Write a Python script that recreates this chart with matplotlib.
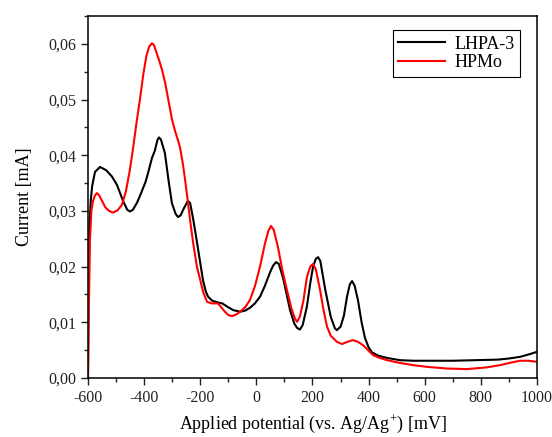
import matplotlib.pyplot as plt
from matplotlib.ticker import MultipleLocator, FuncFormatter

plt.rcParams['font.family'] = ['Liberation Serif', 'DejaVu Serif']
plt.rcParams['axes.unicode_minus'] = False
plt.rcParams['mathtext.fontset'] = 'custom'
plt.rcParams['mathtext.rm'] = 'Liberation Serif'

# LHPA-3 (black) - potential [mV], current [mA]
lhpa_x = [-600, -598, -595, -590, -585, -575, -557, -535, -515, -497, -475, -460, -450, -440,
          -425, -410, -395, -386, -372, -362, -352, -347, -340, -326, -313, -301, -288, -279,
          -270, -258, -244, -236, -225, -212, -201, -190, -180, -172, -158, -140, -122, -100,
          -83, -58, -40, -23, -5, 13, 30, 49, 60, 70, 80, 95, 108, 120, 135, 145, 155, 165,
          180, 192, 202, 212, 220, 228, 245, 265, 280, 287, 300, 312, 323, 333, 341, 350, 362,
          375, 387, 400, 412, 435, 466, 512, 560, 620, 700, 780, 860, 900, 940, 975, 1000]
lhpa_y = [0.0, 0.018, 0.027, 0.032, 0.0345, 0.0370, 0.0379, 0.0373, 0.0362, 0.0347, 0.0318,
          0.0302, 0.0299, 0.0302, 0.0315, 0.0333, 0.0352, 0.0368, 0.0395, 0.0408, 0.0428,
          0.0432, 0.0428, 0.0404, 0.0355, 0.0314, 0.0295, 0.0289, 0.0292, 0.0305, 0.0318,
          0.0314, 0.0285, 0.0245, 0.0210, 0.0175, 0.0155, 0.0146, 0.0139, 0.0136, 0.0134,
          0.0127, 0.0122, 0.0119, 0.0121, 0.0126, 0.0134, 0.0146, 0.0165, 0.0190, 0.0202,
          0.0208, 0.0205, 0.0180, 0.0150, 0.0122, 0.0098, 0.0090, 0.0087, 0.0095, 0.0128,
          0.0170, 0.0200, 0.0214, 0.0217, 0.0210, 0.0160, 0.0110, 0.0089, 0.0086, 0.0092,
          0.0112, 0.0146, 0.0168, 0.0174, 0.0166, 0.0140, 0.0100, 0.0072, 0.0055, 0.0046,
          0.0040, 0.0036, 0.0032, 0.0031, 0.0031, 0.0031, 0.0032, 0.0033, 0.0035, 0.0038,
          0.0043, 0.0047]

# HPMo (red)
hpmo_x = [-600, -597, -593, -588, -582, -575, -568, -560, -550, -539, -525, -511, -495, -479,
          -465, -452, -440, -428, -415, -403, -392, -382, -372, -365, -355, -345, -336, -325,
          -312, -301, -290, -280, -272, -262, -254, -245, -236, -226, -212, -201, -190, -176,
          -160, -137, -125, -112, -100, -87, -72, -58, -40, -23, -5, 13, 30, 42, 52, 62, 77,
          92, 109, 125, 138, 145, 155, 168, 180, 192, 202, 212, 227, 240, 252, 265, 287, 305,
          325, 344, 362, 380, 398, 416, 440, 466, 512, 560, 608, 680, 750, 820, 868, 910, 940,
          970, 1000]
hpmo_y = [0.0, 0.012, 0.0248, 0.030, 0.0318, 0.0328, 0.0332, 0.0328, 0.0318, 0.0307, 0.0300,
          0.0297, 0.0301, 0.0311, 0.0335, 0.0370, 0.0410, 0.0455, 0.0500, 0.0545, 0.0578,
          0.0595, 0.0601, 0.0598, 0.0583, 0.0568, 0.0553, 0.0530, 0.0495, 0.0465, 0.0444,
          0.0428, 0.0414, 0.0385, 0.0356, 0.0320, 0.0283, 0.0245, 0.0200, 0.0178, 0.0155,
          0.0137, 0.0134, 0.0134, 0.0127, 0.0119, 0.0113, 0.0111, 0.0114, 0.0119, 0.0127,
          0.0140, 0.0165, 0.0200, 0.0240, 0.0263, 0.0273, 0.0266, 0.0235, 0.0195, 0.0158,
          0.0125, 0.0106, 0.0101, 0.0110, 0.0140, 0.0181, 0.0200, 0.0205, 0.0195, 0.0158,
          0.0120, 0.0092, 0.0076, 0.0065, 0.0061, 0.0065, 0.0068, 0.0065, 0.0059, 0.0050,
          0.0041, 0.0036, 0.0032, 0.0027, 0.0023, 0.0020, 0.0017, 0.0016, 0.0019, 0.0023,
          0.0028, 0.0031, 0.0031, 0.0029]

fig = plt.figure(figsize=(5.52, 4.37), dpi=100)
ax = fig.add_axes([0.1594, 0.135, 0.8134, 0.8284])

ax.plot(lhpa_x, lhpa_y, color='black', lw=1.5, label='LHPA-3')
ax.plot(hpmo_x, hpmo_y, color='red', lw=1.5, label='HPMo')

ax.set_xlim(-600, 1000)
ax.set_ylim(0, 0.065)
ax.xaxis.set_major_locator(MultipleLocator(200))
ax.xaxis.set_minor_locator(MultipleLocator(100))
ax.yaxis.set_major_locator(MultipleLocator(0.01))
ax.yaxis.set_minor_locator(MultipleLocator(0.005))
ax.yaxis.set_major_formatter(FuncFormatter(lambda v, p: f'{v:.2f}'.replace('.', ',')))
ax.xaxis.set_major_formatter(FuncFormatter(lambda v, p: f'{v:.0f}'))
ax.tick_params(which='both', direction='out', labelsize=11.5, width=1, colors='#222222')
ax.tick_params(which='major', length=5)
ax.tick_params(which='minor', length=3)
for s in ax.spines.values():
    s.set_linewidth(1.1)

ax.set_xlabel('Applied potential (vs. Ag/Ag$^{\\mathrm{+}}$) [mV]', fontsize=13, labelpad=5)
ax.set_ylabel('Current [mA]', fontsize=13, labelpad=11)

leg = ax.legend(loc='upper right', fontsize=13, fancybox=False, edgecolor='black',
                framealpha=1, handlelength=2.6, borderpad=0.3, labelspacing=0.1,
                handletextpad=0.5, borderaxespad=0, bbox_to_anchor=(0.962, 0.961))
leg.get_frame().set_linewidth(0.8)

fig.savefig('out.png', dpi=100)
